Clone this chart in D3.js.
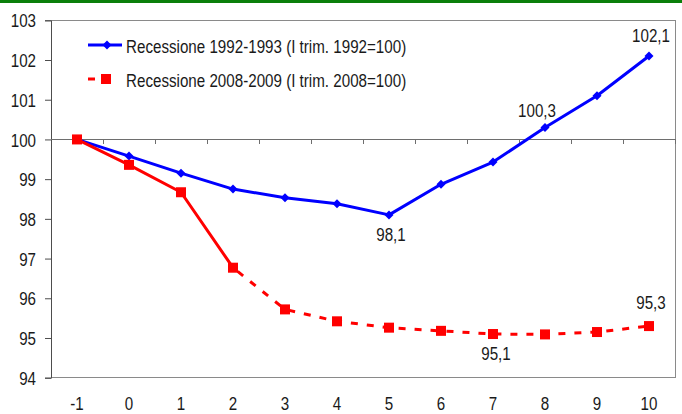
<!DOCTYPE html>
<html>
<head>
<meta charset="utf-8">
<script src="https://cdn.jsdelivr.net/npm/d3@7"></script>
<style>
  html, body { margin: 0; padding: 0; background: #fff; }
  svg { display: block; }
  text { font-family: "Liberation Sans", Arial, sans-serif; font-size: 18.5px; fill: #1a1a1a; }
</style>
</head>
<body>
<svg id="chart" width="682" height="414"></svg>
<script>
// Quarters relative to the start of each recession
const quarters = [-1, 0, 1, 2, 3, 4, 5, 6, 7, 8, 9, 10];

// Index values (first quarter of start year = 100)
const recession9293 = [100, 99.58, 99.15, 98.75, 98.53, 98.38, 98.1, 98.87, 99.43, 100.3, 101.1, 102.1];
const recession0809 = [100, 99.36, 98.67, 96.77, 95.72, 95.42, 95.26, 95.18, 95.1, 95.09, 95.15, 95.3];

const seriesNames = [
  "Recessione 1992-1993 (I trim. 1992=100)",
  "Recessione 2008-2009 (I trim. 2008=100)"
];

const yTicks = [94, 95, 96, 97, 98, 99, 100, 101, 102, 103];

// Quarters whose value is written next to the point
const labelled9293 = [5, 8, 10];
const labelled0809 = [7, 10];

const svg = d3.select("#chart");
const W = 682, H = 414;
const plot = { left: 51, right: 675, top: 20.3, bottom: 377.7 };
const NARROW = 0.82;

// Condensed lettering: move each text's anchor into a transform and squeeze it horizontally
function narrow(sel) {
  sel.each(function () {
    const t = d3.select(this);
    const tx = +t.attr("x") || 0, ty = +t.attr("y") || 0;
    t.attr("x", 0).attr("y", 0).attr("transform", `translate(${tx},${ty}) scale(${NARROW},1)`);
  });
}

// top green rule
svg.append("rect").attr("x", 0).attr("y", 0).attr("width", W).attr("height", 3).attr("fill", "#0a7f0a");

const x = d3.scaleBand().domain(quarters).range([plot.left, plot.right]).padding(0);
const cx = q => x(q) + x.bandwidth() / 2;
const y = d3.scaleLinear().domain([94, 103]).range([plot.bottom, plot.top]);

// plot-area frame (top, right, bottom)
svg.append("path")
  .attr("d", `M${plot.left},${plot.top}H${plot.right}V${plot.bottom}H${plot.left}`)
  .attr("fill", "none").attr("stroke", "#8a8a8a").attr("stroke-width", 1)
  .attr("shape-rendering", "crispEdges");

// value axis
const yAxis = svg.append("g")
  .attr("transform", `translate(${plot.left},0)`)
  .call(d3.axisLeft(y).tickValues(yTicks).tickSize(6).tickPadding(9).tickFormat(d3.format("d")));
yAxis.select(".domain").attr("stroke", "#4d4d4d");
yAxis.selectAll(".tick line").attr("stroke", "#4d4d4d");
yAxis.selectAll("text").attr("font-size", null).attr("font-family", null).attr("fill", "#1a1a1a")
  .attr("dy", null).attr("y", 6.6).call(narrow);

// category axis crossing at 100, with ticks between categories
const y100 = y(100);
svg.append("line")
  .attr("x1", plot.left).attr("x2", plot.right).attr("y1", y100).attr("y2", y100)
  .attr("stroke", "#6e6e6e").attr("stroke-width", 1).attr("shape-rendering", "crispEdges");
const bounds = quarters.map(q => x(q)).concat([plot.right]);
svg.append("g").selectAll("line").data(bounds.slice(1)).join("line")
  .attr("x1", d => d).attr("x2", d => d).attr("y1", y100).attr("y2", y100 + 5)
  .attr("stroke", "#6e6e6e").attr("stroke-width", 1).attr("shape-rendering", "crispEdges");

// category labels below the plot
svg.append("g").selectAll("text").data(quarters).join("text")
  .attr("x", d => cx(d)).attr("y", 410).attr("text-anchor", "middle")
  .text(d => d3.format("d")(d).replace("−", "-"))
  .call(narrow);

const line = d3.line().x(d => cx(d.q)).y(d => y(d.v));
const pts9293 = quarters.map((q, i) => ({ q, v: recession9293[i] }));
const pts0809 = quarters.map((q, i) => ({ q, v: recession0809[i] }));

const BLUE = "#0000ff", RED = "#ff0000";

// 1992-1993 series
svg.append("path").datum(pts9293).attr("d", line)
  .attr("fill", "none").attr("stroke", BLUE).attr("stroke-width", 3).attr("stroke-linejoin", "round");
const diamond = s => `M0,${-s}L${s},0L0,${s}L${-s},0Z`;
svg.append("g").selectAll("path").data(pts9293).join("path")
  .attr("transform", d => `translate(${cx(d.q)},${y(d.v)})`)
  .attr("d", diamond(4.5)).attr("fill", BLUE);

// 2008-2009 series: solid through quarter 2, dashed afterwards
const split = quarters.indexOf(2);
svg.append("path").datum(pts0809.slice(0, split + 1)).attr("d", line)
  .attr("fill", "none").attr("stroke", RED).attr("stroke-width", 3).attr("stroke-linejoin", "round");
svg.append("path").datum(pts0809.slice(split)).attr("d", line)
  .attr("fill", "none").attr("stroke", RED).attr("stroke-width", 3)
  .attr("stroke-dasharray", "7,9").attr("stroke-dashoffset", -6);
svg.append("g").selectAll("rect").data(pts0809).join("rect")
  .attr("x", d => cx(d.q) - 5).attr("y", d => y(d.v) - 5)
  .attr("width", 10).attr("height", 10).attr("fill", RED);

// value labels
const fmt = v => d3.format(".1f")(v).replace(".", ",");
const labelOffset = {
  "a5": [2, 26], "a8": [-8, -11], "a10": [2, -14],
  "b7": [3, 26], "b10": [2, -17]
};
const labels = labelled9293.map(q => ({ key: "a" + q, q, v: recession9293[quarters.indexOf(q)] }))
  .concat(labelled0809.map(q => ({ key: "b" + q, q, v: recession0809[quarters.indexOf(q)] })));
svg.append("g").selectAll("text").data(labels).join("text")
  .attr("x", d => cx(d.q) + labelOffset[d.key][0])
  .attr("y", d => y(d.v) + labelOffset[d.key][1])
  .attr("text-anchor", "middle").text(d => fmt(d.v))
  .call(narrow);

// legend
const legend = svg.append("g");
const legY = [45, 79];
legend.append("line").attr("x1", 88).attr("x2", 122).attr("y1", legY[0]).attr("y2", legY[0])
  .attr("stroke", BLUE).attr("stroke-width", 3);
legend.append("path").attr("transform", `translate(107,${legY[0]})`).attr("d", diamond(4.5)).attr("fill", BLUE);
legend.append("line").attr("x1", 88).attr("x2", 122).attr("y1", legY[1]).attr("y2", legY[1])
  .attr("stroke", RED).attr("stroke-width", 3).attr("stroke-dasharray", "7,40");
legend.append("rect").attr("x", 101).attr("y", legY[1] - 5).attr("width", 10).attr("height", 10).attr("fill", RED);
legend.selectAll("text.lbl").data(seriesNames).join("text").attr("class", "lbl")
  .attr("x", 126).attr("y", (d, i) => legY[i] + 8).text(d => d)
  .call(narrow);
</script>
</body>
</html>
